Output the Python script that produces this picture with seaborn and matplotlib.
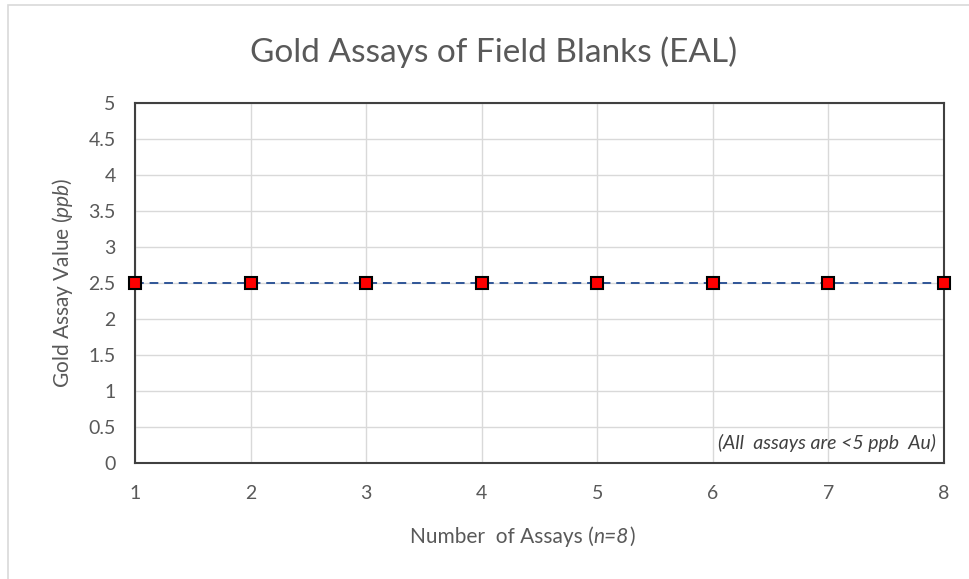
import matplotlib
matplotlib.use('Agg')
import matplotlib.pyplot as plt
import seaborn as sns
import pandas as pd
from matplotlib.patches import Rectangle

assay_no = [1, 2, 3, 4, 5, 6, 7, 8]
gold_ppb = [2.5, 2.5, 2.5, 2.5, 2.5, 2.5, 2.5, 2.5]
y_ticks = [0, 0.5, 1, 1.5, 2, 2.5, 3, 3.5, 4, 4.5, 5]
y_tick_labels = ['0', '0.5', '1', '1.5', '2', '2.5', '3', '3.5', '4', '4.5', '5']

sns.set_style('white')
plt.rcParams['font.family'] = ['Lato', 'DejaVu Sans']
plt.rcParams['mathtext.fontset'] = 'custom'
plt.rcParams['mathtext.it'] = 'Lato:italic'
plt.rcParams['mathtext.rm'] = 'Lato'

txt = '#595959'
df = pd.DataFrame({'n': assay_no, 'au': gold_ppb})

fig = plt.figure(figsize=(9.69, 5.79), dpi=100)
ax = fig.add_axes([0.1393, 0.2003, 0.8349, 0.6218])

# outer chart frame (only top/left edges show)
fig.patches.append(Rectangle((8 / 969, -0.05), 1.2, 1 - 5 / 579 + 0.05,
                             transform=fig.transFigure, fill=False,
                             edgecolor='#d9d9d9', linewidth=1.2))

sns.lineplot(data=df, x='n', y='au', ax=ax, color='#2f5597', linestyle=(0, (4.5, 3)),
             linewidth=1.4, marker='s', markersize=9, markerfacecolor='#ff0000',
             markeredgecolor='black', markeredgewidth=1.5, clip_on=False, zorder=5)

ax.set_xlim(1, 8)
ax.set_ylim(0, 5)
ax.set_xticks(assay_no)
ax.set_yticks(y_ticks)
ax.set_yticklabels(y_tick_labels)
ax.grid(True, color='#d9d9d9', linewidth=1)
for s in ax.spines.values():
    s.set_color('#404040')
    s.set_linewidth(1.5)
ax.tick_params(axis='both', colors=txt, labelsize=14, length=0)
ax.tick_params(axis='x', pad=16)
ax.tick_params(axis='y', pad=14)
ax.set_xlabel('')

# x label in pieces so "n=8" is italic
t1 = fig.text(410 / 969, 1 - 537 / 579, 'Number  of Assays (', color=txt,
              fontsize=15, ha='left', va='center')
t2 = ax.annotate('n=8', xy=(1, 0), xycoords=t1, va='bottom', ha='left',
                 color=txt, fontsize=15, style='italic')
ax.annotate(')', xy=(1, 0), xycoords=t2, va='bottom', ha='left',
            color=txt, fontsize=15)

ax.set_ylabel('Gold Assay Value ($\\it{ppb}$)', color=txt, fontsize=15)
ax.yaxis.set_label_coords(-0.074, 0.5)
fig.text(494 / 969, 1 - 52 / 579, 'Gold Assays of Field Blanks (EAL)', color=txt,
         fontsize=24, ha='center', va='center')

ax.text(0.99, 0.055, '(All  assays are <5 ppb  Au)', transform=ax.transAxes,
        ha='right', va='center', style='italic', color='#404040', fontsize=14)

fig.savefig('out.png', dpi=100)
